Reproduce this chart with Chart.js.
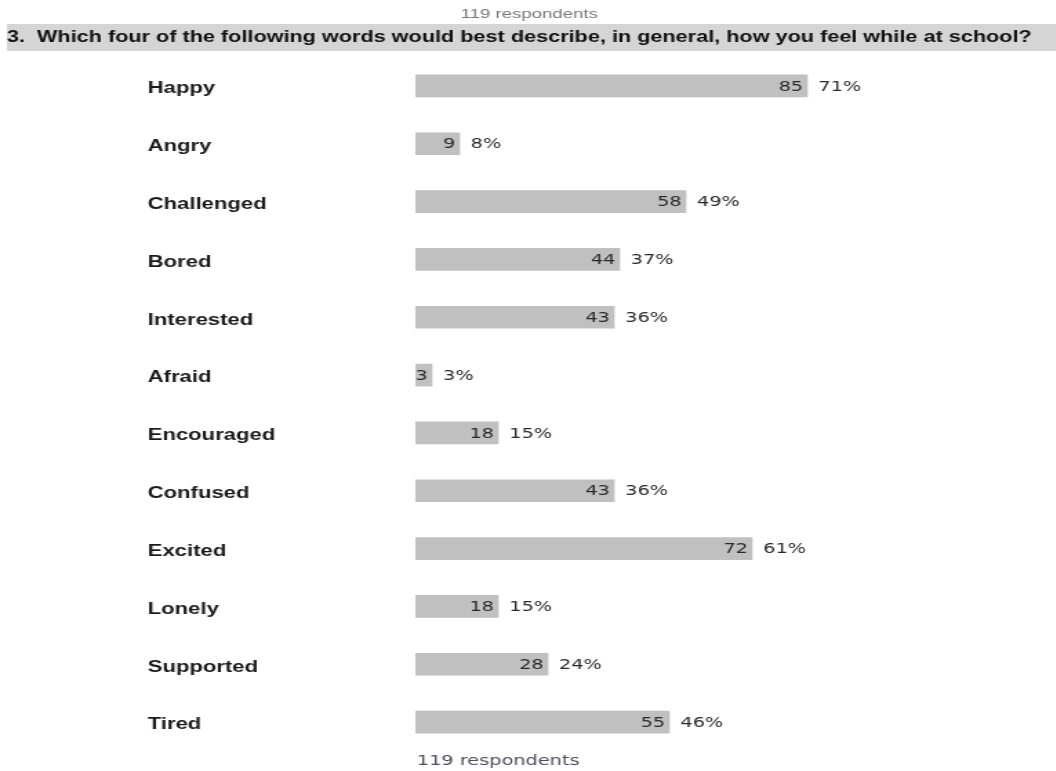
<!DOCTYPE html>
<html>
<head>
<meta charset="utf-8">
<title>Survey question 3</title>
<script src="https://cdn.jsdelivr.net/npm/chart.js@4"></script>
<style>
  html, body { margin: 0; padding: 0; background: #fff; overflow: hidden; }
  /* the report is laid out narrow and then stretched wide */
  #wrap { width: 765px; height: 771px; transform: scaleX(1.38); transform-origin: 0 0; }
</style>
</head>
<body>
<div id="wrap"><canvas id="chart"></canvas></div>
<script>
const categories = ['Happy', 'Angry', 'Challenged', 'Bored', 'Interested', 'Afraid',
  'Encouraged', 'Confused', 'Excited', 'Lonely', 'Supported', 'Tired'];
const counts = [85, 9, 58, 44, 43, 3, 18, 43, 72, 18, 28, 55];
const percents = [71, 8, 49, 37, 36, 3, 15, 36, 61, 15, 24, 46];
const respondents = 119;
const question = '3.  Which four of the following words would best describe, in general, how you feel while at school?';

const reportText = {
  id: 'reportText',
  afterDatasetsDraw(chart) {
    const ctx = chart.ctx;
    const bars = chart.getDatasetMeta(0).data;
    ctx.save();
    ctx.font = '14px "DejaVu Sans"';
    ctx.fillStyle = '#2a2a2a';
    ctx.textBaseline = 'middle';
    bars.forEach((bar, i) => {
      ctx.textAlign = 'right';
      ctx.fillText(counts[i], bar.x - 3, bar.y + 1);
      ctx.textAlign = 'left';
      ctx.fillText(percents[i] + '%', bar.x + 8, bar.y + 1);
    });
    ctx.restore();
  },
  afterDraw(chart) {
    const ctx = chart.ctx;
    const w = chart.width;
    ctx.save();
    ctx.textBaseline = 'middle';

    // respondents count above the question
    ctx.font = '13.5px "Liberation Sans"';
    ctx.fillStyle = '#777';
    ctx.textAlign = 'center';
    ctx.fillText(respondents + ' respondents', w / 2 + 1, 14);

    // question band
    ctx.fillStyle = '#d5d5d5';
    ctx.fillRect(5, 24, w - 4, 27);
    ctx.font = 'bold 15.7px "Liberation Sans"';
    ctx.fillStyle = '#111';
    ctx.textAlign = 'left';
    ctx.fillText(question, 5, 38);

    // respondents count under the bars
    ctx.font = '14px "DejaVu Sans"';
    ctx.fillStyle = '#4d4d5c';
    ctx.fillText(respondents + ' respondents', chart.chartArea.left + 1, 761);
    ctx.restore();
  }
};

new Chart(document.getElementById('chart'), {
  type: 'bar',
  data: {
    labels: categories,
    datasets: [{
      data: percents,
      backgroundColor: '#c0c0c0',
      borderWidth: 0,
      barThickness: 22
    }]
  },
  options: {
    indexAxis: 'y',
    responsive: true,
    maintainAspectRatio: false,
    animation: false,
    layout: { padding: { top: 57, bottom: 20, left: 107, right: 64 } },
    plugins: { legend: { display: false }, tooltip: { enabled: false } },
    scales: {
      x: { display: false, min: 0, max: 100 },
      y: {
        grid: { display: false },
        border: { display: false },
        ticks: {
          crossAlign: 'far',
          color: '#1a1a1a',
          autoSkip: false,
          labelOffset: 3,
          font: { family: 'Liberation Sans', size: 16, weight: 'bold' }
        },
        afterFit(scale) { scale.width = 194; }
      }
    }
  },
  plugins: [reportText]
});
</script>
</body>
</html>
